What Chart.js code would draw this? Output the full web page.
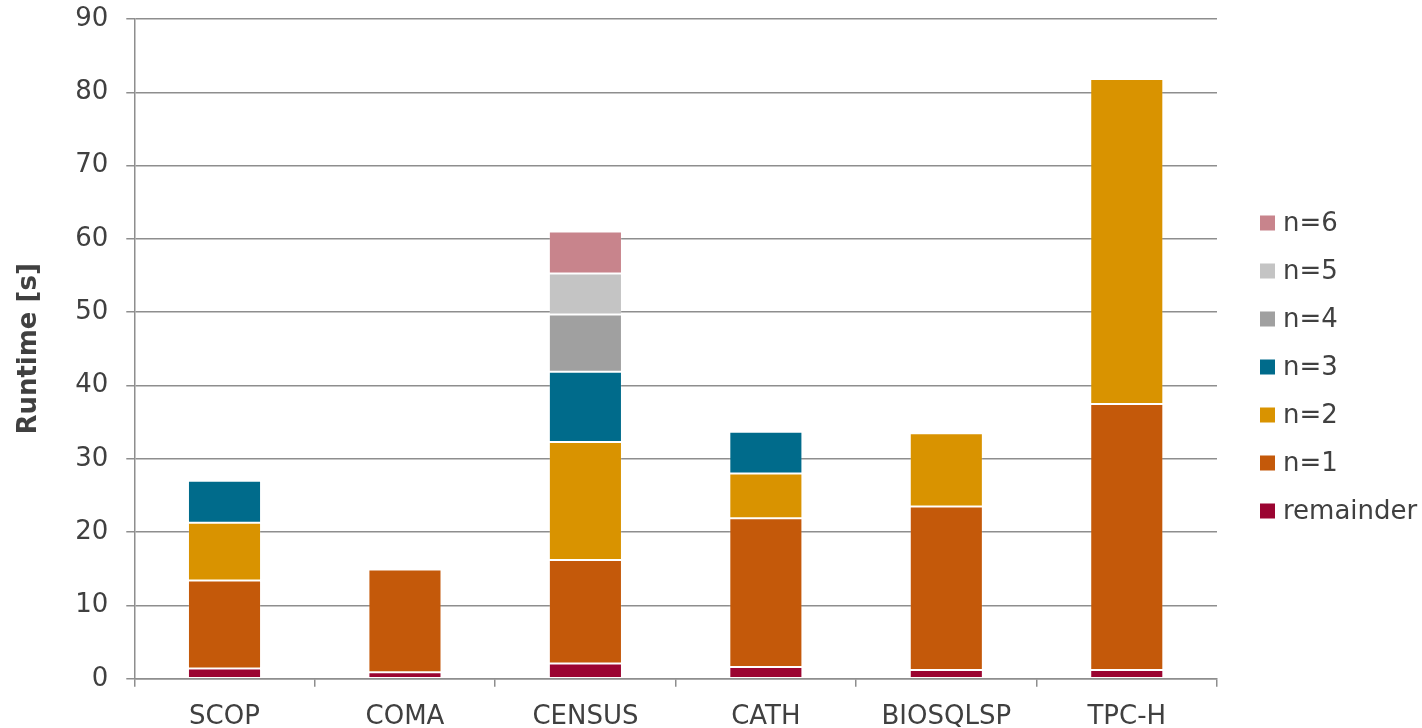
<!DOCTYPE html>
<html>
<head>
<meta charset="utf-8">
<title>Runtime per dataset</title>
<script src="https://cdn.jsdelivr.net/npm/chart.js@4/dist/chart.umd.min.js"></script>
<style>
  html, body { margin: 0; padding: 0; background: #fff; }
  #wrap { position: relative; width: 1422px; height: 728px; }
</style>
</head>
<body>
<div id="wrap"><canvas id="runtime-chart"></canvas></div>
<script>
// Stacked runtime per dataset, split by n (remainder at the bottom).
const categories = ["SCOP", "COMA", "CENSUS", "CATH", "BIOSQLSP", "TPC-H"];

const remainder = [1.4, 0.9, 2.1, 1.6, 1.2, 1.2];
const n1 = [12.0, 14.0, 14.1, 20.3, 22.3, 36.3];
const n2 = [7.9, null, 16.1, 6.1, 10.0, 44.3];
const n3 = [5.7, null, 9.6, 5.7, null, null];
const n4 = [null, null, 7.8, null, null, null];
const n5 = [null, null, 5.6, null, null, null];
const n6 = [null, null, 5.7, null, null, null];

const seriesLabels = ["remainder", "n=1", "n=2", "n=3", "n=4", "n=5", "n=6"];
const seriesColors = ["#9b0532", "#c4590a", "#d99300", "#006b8b", "#a0a0a0", "#c4c4c4", "#c8848c"];
const seriesData = [remainder, n1, n2, n3, n4, n5, n6];

const yTicks = [0, 10, 20, 30, 40, 50, 60, 70, 80, 90];

const FONT = "'DejaVu Sans', Verdana, sans-serif";
const TEXT = "#404040";
const GRID = "#8e8e8e";

// legend on the right, top entry is the last series
const sideLegend = {
  id: "sideLegend",
  afterDraw(chart, args, opts) {
    const ctx = chart.ctx;
    const items = chart.data.datasets.map(d => ({ label: d.label, color: d.backgroundColor })).reverse();
    ctx.save();
    ctx.font = `${opts.fontSize}px ${FONT}`;
    ctx.textBaseline = "middle";
    ctx.textAlign = "left";
    items.forEach((it, i) => {
      const cy = opts.top + i * opts.gap;
      ctx.fillStyle = it.color;
      ctx.fillRect(opts.x, cy - opts.box / 2, opts.box, opts.box);
      ctx.fillStyle = TEXT;
      ctx.fillText(it.label, opts.x + opts.box + 8, cy + 1);
    });
    ctx.restore();
  }
};

const ctx = document.getElementById("runtime-chart").getContext("2d");
new Chart(ctx, {
  type: "bar",
  data: {
    labels: categories,
    datasets: seriesData.map((vals, i) => ({
      label: seriesLabels[i],
      data: vals,
      backgroundColor: seriesColors[i],
      borderColor: "rgba(255,255,255,0.15)",
      borderWidth: 1,
      borderSkipped: false,
      barPercentage: 0.405,
      categoryPercentage: 1,
    })),
  },
  options: {
    responsive: true,
    maintainAspectRatio: false,
    animation: false,
    layout: { padding: { top: 19, right: 205, bottom: -20, left: 0 } },
    scales: {
      x: {
        stacked: true,
        offset: true,
        border: { display: true, color: GRID, width: 1.5 },
        grid: {
          offset: true,
          drawOnChartArea: false,
          drawTicks: true,
          tickLength: 8,
          color: GRID,
          lineWidth: 1.5,
        },
        ticks: {
          color: TEXT,
          padding: 15,
          font: { family: FONT, size: 26 },
          maxRotation: 0,
        },
      },
      y: {
        stacked: true,
        min: 0,
        max: 90,
        afterBuildTicks: axis => { axis.ticks = yTicks.map(v => ({ value: v })); },
        // the top label may overhang the canvas edge a little; plot area is set by layout padding
        afterFit: axis => { axis.paddingTop = 0; axis.paddingBottom = 0; },
        border: { display: true, color: GRID, width: 1.5 },
        grid: {
          color: GRID,
          lineWidth: 1.5,
          drawTicks: true,
          tickLength: 8,
        },
        ticks: {
          color: TEXT,
          padding: 18,
          font: { family: FONT, size: 26 },
        },
        title: {
          display: true,
          text: "Runtime [s]",
          color: TEXT,
          font: { family: FONT, size: 26, weight: "bold" },
          padding: { top: 14, bottom: 12 },
        },
      },
    },
    plugins: {
      legend: { display: false },
      tooltip: { enabled: false },
      sideLegend: { x: 1260, top: 223, gap: 48, box: 15, fontSize: 26 },
    },
  },
  plugins: [sideLegend],
});
</script>
</body>
</html>
